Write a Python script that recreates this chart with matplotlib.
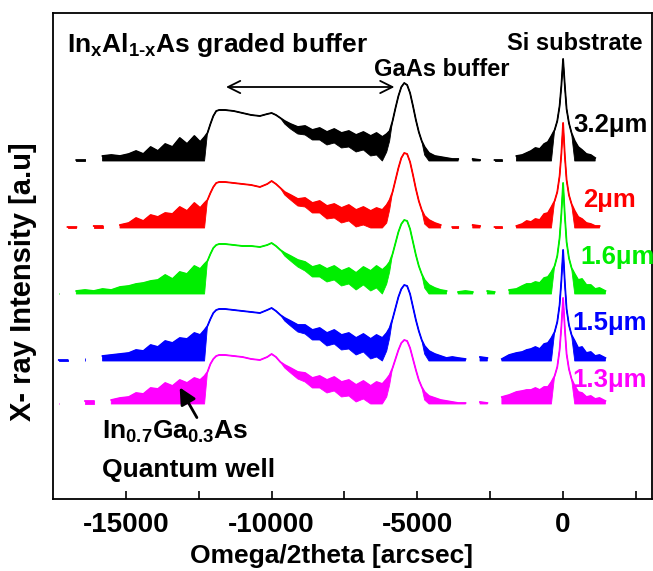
import numpy as np
import matplotlib
matplotlib.use("Agg")
import matplotlib.pyplot as plt

nan = np.nan

# omega/2theta positions [arcsec], shared by all five scans
x_arcsec = [
    -17300, -17000, -16700, -16400, -16100, -15800, -15500, -15200,
    -14900, -14650, -14400, -14150, -13900, -13650, -13400, -13150, -12900, -12650, -12450, -12300,
    -12200, -12100, -12000, -11900, -11800, -11600, -11300, -11000, -10700, -10400, -10150, -10000,
    -9850, -9700, -9550,
    -9350, -9100, -8850, -8600, -8350, -8100, -7850, -7600, -7350, -7100, -6850, -6600, -6400, -6200, -6050, -5950,
    -5850, -5750, -5650, -5550, -5450, -5350, -5250, -5150, -5050, -4950, -4850, -4750,
    -4600, -4400, -4200, -4000, -3800,
    -3600, -3350, -3100, -2850, -2600, -2350, -2100, -1850, -1600, -1400, -1250,
    -1100, -950, -800, -650, -520, -400, -290, -200, -120, -60, 0, 60, 120, 200, 290, 400, 520, 650, 800, 950, 1100, 1250, 1450,
]

# depth of the noise band below the top of the scan (same for all scans), 99 = down to the baseline
noise_depth = [
    99, 99, 99, 99, 99, 99, 99, 99,
    99, 99, 99, 99, 99, 99, 99, 99, 99, 99, 99, 99,
    0, 0, 0, 0, 0, 0, 0, 0, 0, 0, 0, 0,
    0, 0, 3,
    5, 7, 9, 10, 12, 13, 14, 15, 16, 17, 18, 20, 22, 26, 18, 10,
    0, 0, 0, 0, 0, 0, 0, 0, 0, 0, 0, 8,
    99, 99, 99, 99, 99,
    99, 99, 99, 99, 99, 99, 99, 99, 99, 99, 99,
    99, 99, 99, 99, 99, 99, 0, 0, 0, 0, 0, 0, 0, 0, 0, 99, 99, 99, 99, 99, 99, 99, 99,
]

# intensity above each trace's own baseline [a.u.], nan = no counts
int_3p2 = [
    nan, nan, 1, 1, nan, 5, 6, 5,
    7, 10, 7, 14, 10, 17, 14, 23, 17, 25, 19, 24,
    28, 37, 45, 50, 51, 51, 50, 48, 46, 45, 47, 48,
    46, 43, 40,
    37, 34, 35, 31, 33, 29, 32, 28, 30, 26, 29, 25, 28, 24, 27, 30,
    40, 53, 65, 74, 78, 76, 68, 55, 41, 29, 20, 14,
    8, 5, 4, 3, 2,
    2, nan, 2, 1, nan, 1, 1, nan, 5, 6, 8,
    10, 13, 12, 17, 19, 25, 31, 40, 55, 75, 102, 75, 52, 38, 28, 20, 14, 11, 7, 6, 3, nan, nan,
]
int_2 = [
    nan, 1, 1, nan, 2, 2, nan, 3,
    5, 10, 7, 13, 11, 15, 14, 21, 17, 25, 20, 25,
    28, 35, 41, 45, 46, 46, 45, 44, 43, 41, 44, 47,
    44, 40, 36,
    33, 29, 30, 25, 27, 22, 24, 20, 23, 18, 21, 17, 20, 18, 23, 28,
    36, 48, 60, 70, 75, 74, 66, 53, 39, 27, 18, 12,
    8, 5, 3, nan, 1,
    1, nan, 3, 2, nan, 1, 1, nan, 2, 4, 7,
    6, 9, 8, 14, 15, 21, 27, 36, 52, 74, 105, 72, 48, 33, 24, 17, 11, 9, 5, 4, 2, 2, nan,
]
int_1p6 = [
    1, nan, 3, 4, 3, 5, 4, 7,
    8, 10, 11, 13, 14, 19, 15, 22, 20, 28, 25, 30,
    33, 40, 46, 49, 50, 50, 49, 48, 48, 47, 49, 51,
    48, 44, 41,
    38, 34, 32, 27, 29, 25, 28, 23, 26, 21, 27, 23, 28, 24, 28, 32,
    40, 51, 62, 70, 74, 73, 65, 52, 39, 28, 20, 14,
    9, 6, 4, 3, nan,
    2, 3, 2, nan, 3, 2, nan, 4, 5, 8, 10,
    10, 12, 11, 16, 17, 22, 28, 38, 56, 80, 111, 78, 52, 36, 26, 20, 14, 15, 9, 9, 5, 6, 3,
]
int_1p5 = [
    1, 1, nan, 3, nan, 5, 6, 7,
    8, 11, 10, 16, 14, 20, 18, 23, 22, 28, 26, 31,
    35, 42, 48, 51, 52, 52, 51, 50, 49, 48, 51, 53,
    50, 46, 43,
    40, 36, 36, 31, 33, 28, 31, 26, 28, 23, 27, 22, 26, 23, 28, 33,
    42, 53, 64, 72, 76, 75, 67, 54, 41, 30, 21, 15,
    10, 7, 5, 3, 4,
    3, 2, nan, 4, 3, nan, 2, 6, 8, 9, 11,
    12, 14, 12, 17, 18, 23, 29, 39, 56, 80, 111, 78, 52, 36, 26, 20, 13, 14, 8, 9, 5, 6, 3,
]
int_1p3 = [
    1, nan, nan, 3, 3, nan, 4, 6,
    7, 11, 10, 16, 15, 21, 18, 24, 21, 26, 24, 28,
    32, 40, 45, 48, 49, 49, 48, 47, 45, 44, 47, 50,
    47, 42, 39,
    36, 32, 31, 26, 28, 24, 27, 22, 24, 19, 23, 18, 22, 20, 25, 29,
    36, 45, 54, 61, 64, 63, 56, 45, 34, 24, 17, 12,
    8, 6, 4, 3, 2,
    1, 1, nan, 2, 1, nan, 7, 9, 12, 13, 14,
    14, 16, 14, 17, 17, 22, 28, 37, 54, 77, 106, 75, 50, 35, 25, 18, 12, 11, 7, 8, 5, 6, 3,
]

thickness = ["3.2\u03bcm", "2\u03bcm", "1.6\u03bcm", "1.5\u03bcm", "1.3\u03bcm"]
scans = [int_3p2, int_2, int_1p6, int_1p5, int_1p3]
offsets = [338, 271, 205, 138, 95]
colors = ["black", "#ff0000", "#00ee00", "#0000ff", "#ff00ff"]
label_pos = [(343, 374), (686, 299), (583, 242), (309, 176), (309, 119)]

plt.rcParams["font.family"] = ["Liberation Sans", "DejaVu Sans"]
plt.rcParams["font.weight"] = "bold"
plt.rcParams["axes.unicode_minus"] = False
plt.rcParams["mathtext.fontset"] = "custom"
plt.rcParams["mathtext.rm"] = "Liberation Sans:bold"
plt.rcParams["mathtext.it"] = "Liberation Sans:bold"
plt.rcParams["mathtext.bf"] = "Liberation Sans:bold"
plt.rcParams["mathtext.default"] = "rm"

fig = plt.figure(figsize=(6.53, 5.71), dpi=100)
ax = fig.add_axes([53/653, 72/571, 599/653, 486/571])

x = np.array(x_arcsec, dtype=float)
depth = np.array(noise_depth, dtype=float)

for h, off, c, lab, (lx, ly) in zip(scans, offsets, colors, thickness, label_pos):
    assert len(h) == len(x) == len(depth)
    h = np.array(h, dtype=float)
    top = off + h
    bottom = off + np.clip(h - depth, 0, None)
    ax.fill_between(x, bottom, top, color=c, lw=0.6, edgecolor=c)
    ax.plot(x, top, color=c, lw=1.3)
    ax.text(lx, ly, lab, color=c, fontsize=18.5, ha="left", va="center")

# annotations
ax.text(-17008, 454, r"In$_{x}$Al$_{1\text{-}x}$As graded buffer", fontsize=19, ha="left", va="center")
ax.text(-6481, 430, "GaAs buffer", fontsize=17, ha="left", va="center")
ax.text(-1920, 455, "Si substrate", fontsize=17, ha="left", va="center")
ax.annotate("", xy=(-5692, 412), xytext=(-11659, 412),
            arrowprops=dict(arrowstyle="<->", lw=1.3, color="black", mutation_scale=22))
ax.text(-15808, 67, r"In$_{0.7}$Ga$_{0.3}$As", fontsize=19, ha="left", va="center")
ax.text(-15808, 29, "Quantum well", fontsize=19, ha="left", va="center")
ax.annotate("", xy=(-13202, 114), xytext=(-12516, 79),
            arrowprops=dict(arrowstyle="-|>", lw=2, color="black", mutation_scale=25))

ax.set_xlim(-17500, 3050)
ax.set_ylim(0, 486)
ax.set_xticks([-15000, -10000, -5000, 0])
ax.set_xticks([-12500, -7500, -2500, 2500], minor=True)
ax.set_yticks([])
ax.tick_params(axis="x", which="both", direction="in", length=6, width=1.2, labelsize=20, pad=9)
for s in ax.spines.values():
    s.set_linewidth(1.3)

fig.text(332/653, 1 - 556/571, "Omega/2theta [arcsec]", fontsize=19, fontweight="bold",
         ha="center", va="center")
fig.text(23/653, 1 - 282/571, "X- ray Intensity [a.u]", fontsize=21, fontweight="bold",
         rotation=90, ha="center", va="center")

fig.savefig("out.png", dpi=100)
